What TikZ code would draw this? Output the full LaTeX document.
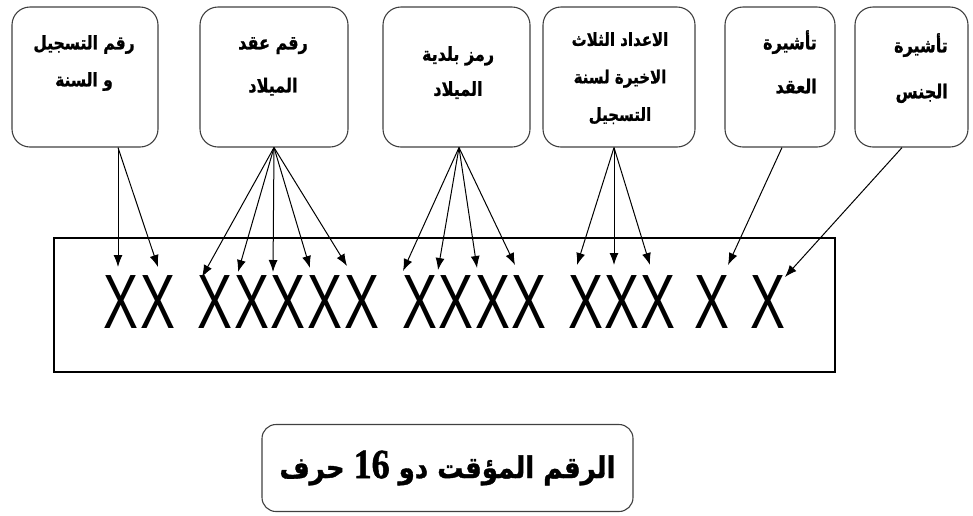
\documentclass[tikz,border=0pt]{standalone}
\usepackage{fontspec}
\usetikzlibrary{arrows.meta}
\TeXXeTstate=1
\newfontfamily\arabicfont[Script=Arabic,BoldFeatures={FakeBold=1.2}]{DejaVu Sans}
\newfontfamily\xfont{Liberation Sans}
\newfontfamily\numfont[FakeBold=1.5]{Liberation Serif}
\newcommand{\arl}[1]{\scalebox{1}[1.2]{\beginR #1\endR}}
\tikzset{
  topbox/.style={draw=black!75, line width=1.1pt, rounded corners=18pt, minimum height=140pt, inner sep=0pt},
  boxtext/.style={anchor=north, align=center, inner sep=0pt},
  xl/.style={anchor=base, inner sep=0pt, font=\xfont\fontsize{77}{77}\selectfont},
  arr/.style={-{Latex[length=12pt,width=9pt]}, line width=1pt},
}
\newcommand{\XX}{\scalebox{0.68}[1]{X}}
\begin{document}
\begin{tikzpicture}[x=1pt,y=-1pt]
\useasboundingbox (0,0) rectangle (973,515);
% top boxes
\node[topbox, minimum width=146pt] (b1) at (85,77) {};
\node[topbox, minimum width=148pt] (b2) at (274,77) {};
\node[topbox, minimum width=147pt] (b3) at (456.5,77) {};
\node[topbox, minimum width=152pt] (b4) at (619,77) {};
\node[topbox, minimum width=110pt] (b5) at (780,77) {};
\node[topbox, minimum width=113pt] (b6) at (911.5,77) {};
% texts
\node[boxtext, font=\arabicfont\bfseries\fontsize{15.5}{37}\selectfont] (l1) at (84,35) {\arl{رقم التسجيل}\\\arl{و السنة}};
\node[boxtext, font=\arabicfont\bfseries\fontsize{16}{43}\selectfont] (l2) at (273,37) {\arl{رقم عقد}\\\arl{الميلاد}};
\node[boxtext, font=\arabicfont\bfseries\fontsize{16}{35}\selectfont] (l3) at (458,46) {\arl{رمز بلدية}\\\arl{الميلاد}};
\node[boxtext, font=\arabicfont\bfseries\fontsize{15}{37.5}\selectfont] (l4) at (620,32) {\arl{الاعداد الثلاث}\\\arl{الاخيرة لسنة}\\\arl{التسجيل}};
\node[boxtext, anchor=north east, align=right, font=\arabicfont\bfseries\fontsize{16}{44}\selectfont] (l5) at (817,30) {\arl{تأشيرة}\\\arl{العقد}};
\node[boxtext, anchor=north east, align=right, font=\arabicfont\bfseries\fontsize{16}{46}\selectfont] (l6) at (948,33) {\arl{تأشيرة}\\\arl{الجنس}};
% register rectangle
\node[draw, line width=1.1pt, minimum width=781pt, minimum height=134pt, inner sep=0pt] (reg) at (444.5,305) {};
% X letters
\node[xl] (x1) at (121,328) {\XX};
\node[xl] (x2) at (158,328) {\XX};
\node[xl] (x3) at (215,328) {\XX};
\node[xl] (x4) at (252,328) {\XX};
\node[xl] (x5) at (288,328) {\XX};
\node[xl] (x6) at (325,328) {\XX};
\node[xl] (x7) at (362,328) {\XX};
\node[xl] (x8) at (420,328) {\XX};
\node[xl] (x9) at (456,328) {\XX};
\node[xl] (x10) at (493,328) {\XX};
\node[xl] (x11) at (529,328) {\XX};
\node[xl] (x12) at (586,328) {\XX};
\node[xl] (x13) at (622,328) {\XX};
\node[xl] (x14) at (658,328) {\XX};
\node[xl] (x15) at (712,328) {\XX};
\node[xl] (x16) at (768,328) {\XX};
% arrow tips
\coordinate (t1) at (118,267);
\coordinate (t2) at (158,267);
\coordinate (t3) at (202,277);
\coordinate (t4) at (238,272);
\coordinate (t5) at (273,272);
\coordinate (t6) at (310,268);
\coordinate (t7) at (347,266);
\coordinate (t8) at (403,271);
\coordinate (t9) at (438,270);
\coordinate (t10) at (477,268);
\coordinate (t11) at (515,265);
\coordinate (t12) at (577,265);
\coordinate (t13) at (614,265);
\coordinate (t14) at (650,265);
\coordinate (t15) at (728,265);
\coordinate (t16) at (785,277);
% arrows
\coordinate (s1) at ([xshift=33pt]b1.south);
\coordinate (s2) at (b2.south);
\coordinate (s3) at ([xshift=2.5pt]b3.south);
\coordinate (s4) at ([xshift=-5pt]b4.south);
\coordinate (s5) at ([xshift=2pt]b5.south);
\coordinate (s6) at ([xshift=-9.5pt]b6.south);
\foreach \t in {1,2} \draw[arr] (s1) -- (t\t);
\foreach \t in {3,...,7} \draw[arr] (s2) -- (t\t);
\foreach \t in {8,...,11} \draw[arr] (s3) -- (t\t);
\foreach \t in {12,13,14} \draw[arr] (s4) -- (t\t);
\draw[arr] (s5) -- (t15);
\draw[arr] (s6) -- (t16);
% bottom box
\node[draw=black!75, line width=1.1pt, rounded corners=14pt, minimum width=371pt, minimum height=87pt, inner sep=0pt,
  font=\arabicfont\bfseries\fontsize{26}{30}\selectfont] (bot) at (447.5,468)
  {\scalebox{1}[1.15]{\beginR الرقم المؤقت دو {\numfont\fontsize{36}{38}\selectfont\beginL16\endL{}} حرف\endR}};
\end{tikzpicture}
\end{document}
